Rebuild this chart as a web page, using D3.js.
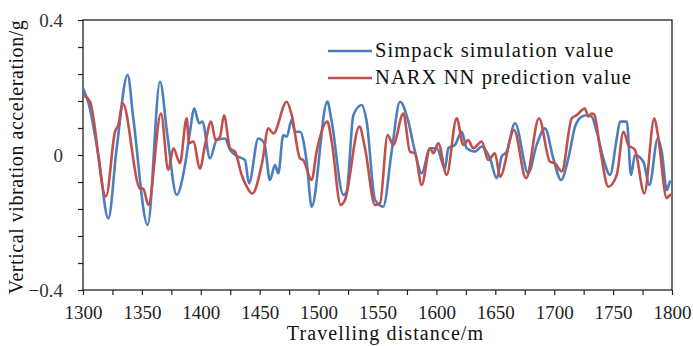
<!DOCTYPE html>
<html>
<head>
<meta charset="utf-8">
<script src="https://cdn.jsdelivr.net/npm/d3@7"></script>
<style>
  body { margin: 0; background: #fff; }
  svg { display: block; }
  svg text { font-family: "Liberation Serif", "Times New Roman", serif !important; }
</style>
</head>
<body>
<script>
// distance (m) / acceleration (g)
const simDist = [1300, 1305, 1313, 1321.5, 1328.6, 1337.9, 1342.7, 1354.9, 1365.4, 1371.6, 1379.5, 1386.6, 1390.8, 1394.5, 1398.5, 1401.3, 1407.8, 1413.5, 1420.5, 1424.8, 1431.8, 1437.5, 1440.9, 1448.8, 1453.9, 1458.7, 1463, 1465.8, 1470, 1472.9, 1477.2, 1480, 1484.2, 1489.9, 1494.1, 1507.4, 1511.1, 1521, 1523.8, 1529.5, 1536.6, 1540.8, 1547.9, 1554.9, 1562, 1569.1, 1576.2, 1581.8, 1587.5, 1594.6, 1600.3, 1607.3, 1610.1, 1615.8, 1621.5, 1625.7, 1632.8, 1638.4, 1645.5, 1651.2, 1655.4, 1659.7, 1666.7, 1678, 1685.1, 1692.2, 1699.2, 1705.8, 1712, 1717.7, 1723.4, 1727.6, 1731.8, 1736.1, 1741.7, 1747.4, 1753.1, 1755.9, 1761.6, 1765.2, 1768.6, 1775.7, 1780.8, 1787.9, 1791.3, 1795.6, 1798.4, 1800];
const simValue = [0.198, 0.15, 0.0, -0.188, 0.02, 0.237, 0.109, -0.207, 0.217, 0.059, -0.118, -0.03, 0.069, 0.138, 0.094, 0.099, -0.01, 0.044, 0.049, 0.015, -0.005, -0.015, -0.084, 0.049, 0.035, -0.074, -0.03, -0.054, 0.059, 0.054, 0.104, 0.069, 0.069, -0.02, -0.153, 0.158, 0.099, -0.118, -0.109, 0.118, 0.148, 0.099, -0.133, -0.153, 0.01, 0.158, 0.099, 0.01, -0.054, 0.02, 0.02, -0.04, 0.02, 0.03, 0.069, 0.02, 0.01, 0.025, -0.01, -0.069, -0.005, 0.01, 0.094, -0.054, 0.03, 0.079, -0.01, -0.074, -0.01, 0.084, 0.114, 0.118, 0.114, 0.069, -0.01, -0.059, 0.049, 0.099, 0.099, -0.059, 0, -0.02, -0.089, 0.049, 0.01, -0.104, -0.079, -0.08];

const narxDist = [1300, 1305.9, 1319.5, 1327.2, 1330, 1333.7, 1348.4, 1351.2, 1355.5, 1366.2, 1372.4, 1376.7, 1382.3, 1388, 1390, 1393.6, 1399.3, 1403.6, 1408.7, 1412.6, 1416.3, 1419.7, 1424.8, 1429, 1434.7, 1439, 1443.7, 1452.2, 1457.3, 1461.6, 1472.9, 1477.2, 1484.2, 1487, 1494.1, 1498.3, 1507.4, 1511.1, 1518.8, 1522.4, 1534.6, 1539.4, 1547.9, 1552.1, 1558.6, 1563.4, 1571.9, 1577.6, 1581.8, 1587.5, 1594.6, 1597.4, 1601.6, 1608.7, 1617.2, 1622.8, 1627, 1631.3, 1638.4, 1644, 1649.7, 1654, 1665.9, 1676.1, 1687.1, 1696.4, 1700.7, 1706.4, 1714.9, 1719.1, 1726.1, 1728.9, 1731.8, 1734, 1738.9, 1746, 1753.1, 1758.8, 1763, 1768.6, 1776.5, 1785, 1788, 1795.6, 1798.4, 1800];
const narxValue = [0.178, 0.158, -0.123, 0.069, 0.089, 0.153, -0.099, -0.1, -0.148, 0.123, -0.044, 0.02, -0.024, 0.109, 0.035, 0.04, -0.04, 0.03, 0.099, 0.044, 0.054, 0.118, 0.02, 0.01, -0.059, -0.094, -0.114, -0.02, 0.079, 0.064, 0.158, 0.118, -0.01, -0.015, -0.074, 0.01, 0.099, 0.04, -0.148, -0.133, 0.084, 0.02, -0.148, -0.143, 0.059, 0.03, 0.123, 0.01, 0.005, -0.089, 0.02, 0.005, 0.035, -0.059, 0.109, 0.03, 0.044, 0.02, 0.04, -0.015, 0.005, -0.064, 0.074, -0.069, 0.109, -0.02, -0.025, -0.049, 0.109, 0.118, 0.138, 0.114, 0.123, 0.12, 0.02, -0.094, -0.059, 0.069, 0.03, 0.015, -0.114, 0.109, 0.06, -0.128, -0.118, -0.12];

const seriesNames = ["Simpack simulation value", "NARX NN prediction value"];
const seriesColors = ["#4a7ebf", "#c0504d"];

const xTicks = d3.range(1300, 1801, 25);
const yTicks = d3.range(-0.4, 0.4001, 0.08);
const xLabels = [1300, 1350, 1400, 1450, 1500, 1550, 1600, 1650, 1700, 1750, 1800];
const yLabels = [-0.4, 0, 0.4];

const width = 693, height = 346;
const margin = {top: 20, right: 21, bottom: 56, left: 83};

const svg = d3.select("body").append("svg")
  .attr("width", width)
  .attr("height", height);

const x = d3.scaleLinear().domain([1300, 1800]).range([margin.left, width - margin.right]);
const y = d3.scaleLinear().domain([-0.4, 0.4]).range([height - margin.bottom, margin.top]);

// frame
svg.append("rect")
  .attr("x", x(1300)).attr("y", y(0.4))
  .attr("width", x(1800) - x(1300)).attr("height", y(-0.4) - y(0.4))
  .attr("fill", "none").attr("stroke", "#222").attr("stroke-width", 1.3);

const xAxis = svg.append("g")
  .attr("transform", `translate(0,${y(-0.4)})`)
  .call(d3.axisBottom(x).tickValues(xTicks).tickSize(5)
    .tickFormat(d => xLabels.includes(d) ? d : ""));
xAxis.select(".domain").remove();
xAxis.selectAll("line").attr("stroke", "#222").attr("stroke-width", 1.2);
xAxis.selectAll("text").attr("font-size", 19).attr("fill", "#222").attr("dy", "1.12em");

const yAxis = svg.append("g")
  .attr("transform", `translate(${x(1300)},0)`)
  .call(d3.axisLeft(y).tickValues(yTicks).tickSize(5)
    .tickFormat(d => yLabels.some(v => Math.abs(v - d) < 1e-6) ? d3.format("")(Math.round(d * 10) / 10) : ""));
yAxis.select(".domain").remove();
yAxis.selectAll("line").attr("stroke", "#222").attr("stroke-width", 1.2);
yAxis.selectAll("text").attr("font-size", 19).attr("fill", "#333").attr("x", -20);

const line = d3.line()
  .x(d => x(d[0]))
  .y(d => y(d[1]))
  .curve(d3.curveMonotoneX);

const series = [
  d3.zip(simDist, simValue),
  d3.zip(narxDist, narxValue)
];

svg.append("g")
  .selectAll("path")
  .data(series)
  .join("path")
    .attr("d", line)
    .attr("fill", "none")
    .attr("stroke", (d, i) => seriesColors[i])
    .attr("stroke-width", 2.6)
    .attr("stroke-linejoin", "round");

// legend
const legend = svg.append("g")
  .selectAll("g")
  .data(seriesNames)
  .join("g")
    .attr("transform", (d, i) => `translate(328,${51 + i * 27})`);

legend.append("line")
  .attr("x1", 0).attr("x2", 44)
  .attr("stroke", (d, i) => seriesColors[i])
  .attr("stroke-width", 2.6);

legend.append("text")
  .attr("x", 47).attr("dy", "0.3em")
  .attr("font-size", 20.5)
  .attr("letter-spacing", 1.1)
  .attr("fill", "#111")
  .text(d => d);

// axis titles
svg.append("text")
  .attr("x", (x(1300) + x(1800)) / 2 + 8)
  .attr("y", 340)
  .attr("text-anchor", "middle")
  .attr("font-size", 20)
  .attr("letter-spacing", 1.1)
  .attr("fill", "#111")
  .text("Travelling distance/m");

svg.append("text")
  .attr("transform", `translate(23,${(y(0.4) + y(-0.4)) / 2 + 2}) rotate(-90)`)
  .attr("text-anchor", "middle")
  .attr("font-size", 20)
  .attr("letter-spacing", 0.55)
  .attr("fill", "#111")
  .text("Vertical vibration acceleration/g");
</script>
</body>
</html>
